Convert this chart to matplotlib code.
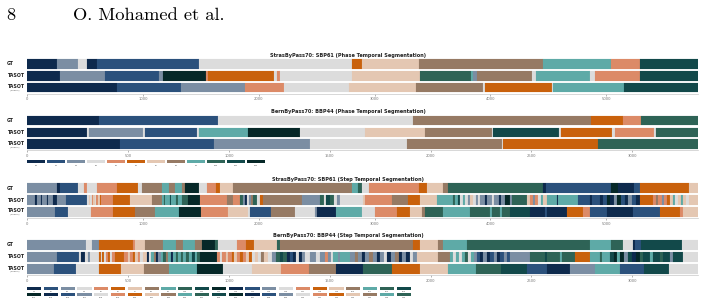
import matplotlib
matplotlib.use("Agg")
import matplotlib.pyplot as plt
from matplotlib.patches import Rectangle

W, H = 705, 306

# 12 phase / step colours (cycle)
palette = ["#0e2a4d", "#2b517c", "#7b8ea3", "#dcdcdc", "#dc8a67", "#c9610c",
           "#e4c7b2", "#967a64", "#5eaaa7", "#2e6356", "#12494a", "#062828"]

row_names = ["GT", "TASOT", "TASOT"]
row3_note = "(b-specific)"

phase_labels = ["P%d" % i for i in range(1, 13)]
step_labels = ["S%d" % i for i in range(1, 47)]

sbp61_len = 5797
bbp44_len = 3328
sbp61_ticks = [0, 1000, 2000, 3000, 4000, 5000]
bbp44_ticks = [0, 500, 1000, 1500, 2000, 2500, 3000]

# segments: (end frame, class index)
sbp61_phase_gt = [(259, 0), (435, 2), (513, 3), (605, 0), (1486, 1), (2808, 3), (2889, 5),
                  (3383, 6), (4453, 7), (5045, 8), (5293, 4), (5797, 10)]
sbp61_phase_tasot = [(282, 0), (671, 2), (1138, 1), (1175, 2), (1544, 11), (1565, 4), (2134, 5),
                     (2157, 3), (2180, 4), (2805, 3), (3393, 6), (3833, 9), (3851, 8), (3885, 2),
                     (4360, 7), (4395, 3), (4861, 8), (4904, 3), (5293, 4), (5797, 10)]
sbp61_phase_tasot_b = [(775, 0), (1330, 1), (1883, 2), (2218, 4), (2779, 3), (3355, 6), (3939, 7),
                       (3951, 3), (4533, 5), (4541, 3), (5155, 8), (5797, 10)]

bbp44_phase_gt = [(356, 0), (944, 1), (1911, 3), (2794, 7), (2954, 5), (3043, 4), (3328, 9)]
bbp44_phase_tasot = [(298, 0), (307, 3), (575, 2), (584, 3), (840, 1), (853, 3), (1096, 8),
                     (1351, 11), (1673, 3), (1971, 6), (2303, 7), (2309, 3), (2638, 10), (2647, 3),
                     (2898, 5), (2914, 3), (3108, 4), (3118, 3), (3328, 9)]
bbp44_phase_tasot_b = [(460, 0), (926, 1), (1402, 2), (1883, 3), (2353, 7), (2359, 3), (2832, 5),
                       (3328, 9)]

sbp61_step_gt = [(259, 2), (283, 0), (435, 1), (492, 3), (513, 4), (600, 3), (772, 4), (959, 5),
                 (988, 3), (1161, 7), (1227, 8), (1276, 7), (1334, 8), (1362, 7), (1486, 11),
                 (1550, 3), (1630, 4), (1665, 5), (1774, 6), (2802, 7), (2860, 8), (2889, 9),
                 (2955, 3), (3384, 4), (3456, 5), (3589, 6), (3632, 7), (4453, 9), (4481, 0),
                 (5043, 1), (5106, 11), (5241, 0), (5293, 1), (5716, 5), (5797, 6)]
sbp61_step_tasot = [(67, 2), (86, 0), (118, 2), (127, 0), (170, 2), (179, 0), (225, 2), (259, 0),
                    (332, 2), (518, 1), (533, 3), (541, 6), (559, 3), (568, 4), (585, 6), (594, 3),
                    (611, 4), (628, 6), (637, 5), (743, 4), (887, 5), (1075, 6), (1161, 7),
                    (1181, 8), (1190, 9), (1233, 8), (1241, 10), (1285, 8), (1302, 9), (1334, 8),
                    (1388, 9), (1492, 11), (1723, 4), (1777, 7), (1837, 4), (1863, 9), (1881, 2),
                    (1898, 0), (1915, 3), (1932, 2), (1949, 7), (1982, 9), (2010, 3), (2034, 5),
                    (2371, 7), (2529, 2), (2563, 9), (2580, 3), (2615, 10), (2649, 9), (2675, 3),
                    (2701, 2), (2903, 3), (2917, 6), (3148, 4), (3291, 7), (3393, 5), (3537, 6),
                    (3677, 8), (3695, 9), (3720, 8), (3737, 10), (3763, 3), (3781, 8), (3807, 3),
                    (3824, 2), (3850, 6), (3876, 3), (3893, 2), (3911, 3), (3954, 2), (3971, 0),
                    (4014, 2), (4031, 3), (4075, 2), (4092, 0), (4127, 2), (4170, 11), (4188, 2),
                    (4314, 9), (4343, 6), (4369, 4), (4386, 2), (4412, 4), (4438, 3), (4455, 8),
                    (4487, 6), (4574, 8), (4587, 0), (4760, 8), (4861, 1), (4878, 0), (4948, 1),
                    (4973, 0), (5005, 1), (5034, 11), (5068, 0), (5094, 2), (5129, 11), (5163, 1),
                    (5189, 0), (5224, 2), (5258, 1), (5293, 0), (5408, 5), (5431, 4), (5448, 7),
                    (5483, 4), (5500, 2), (5526, 4), (5552, 5), (5578, 6), (5595, 8), (5621, 3),
                    (5647, 6), (5664, 8), (5690, 6), (5716, 3), (5797, 6)]
sbp61_step_tasot_b = [(239, 2), (354, 1), (548, 3), (743, 4), (930, 5), (1103, 7), (1311, 8),
                      (1503, 11), (1731, 4), (1909, 6), (1924, 3), (2103, 1), (2313, 7), (2485, 3),
                      (2505, 2), (2667, 0), (2889, 8), (3004, 3), (3191, 4), (3306, 5), (3407, 6),
                      (3436, 7), (3594, 9), (3824, 8), (3997, 9), (4014, 8), (4084, 9), (4101, 8),
                      (4170, 9), (4343, 10), (4472, 0), (4490, 1), (4660, 0), (4803, 5), (4861, 4),
                      (5005, 1), (5235, 0), (5466, 1), (5639, 5), (5665, 4), (5797, 6)]

bbp44_step_gt = [(291, 2), (322, 3), (357, 2), (526, 5), (534, 4), (584, 6), (671, 7), (737, 8),
                 (774, 7), (832, 8), (865, 7), (931, 11), (947, 9), (1041, 3), (1085, 4),
                 (1124, 5), (1240, 6), (1253, 9), (1911, 7), (1947, 5), (2038, 6), (2063, 7),
                 (2179, 8), (2790, 9), (2893, 8), (2956, 9), (3005, 3), (3014, 0), (3042, 1),
                 (3248, 10), (3328, 3)]
bbp44_step_tasot = [(146, 2), (256, 1), (265, 3), (286, 0), (301, 3), (311, 2), (357, 3), (365, 5),
                    (370, 3), (380, 5), (390, 3), (400, 4), (410, 5), (420, 3), (435, 4), (480, 5),
                    (499, 4), (509, 6), (524, 4), (534, 5), (549, 6), (559, 4), (574, 3), (592, 6),
                    (604, 0), (613, 3), (628, 8), (638, 7), (648, 0), (663, 2), (673, 8), (688, 9),
                    (698, 7), (713, 8), (722, 0), (737, 8), (747, 9), (762, 8), (773, 9), (787, 8),
                    (802, 9), (816, 8), (831, 10), (842, 8), (856, 9), (939, 11), (956, 4),
                    (966, 3), (985, 4), (995, 6), (1015, 4), (1025, 5), (1040, 6), (1055, 4),
                    (1070, 5), (1085, 4), (1099, 6), (1114, 5), (1129, 3), (1144, 6), (1159, 3),
                    (1174, 7), (1194, 6), (1213, 3), (1233, 2), (1253, 9), (1268, 10), (1288, 9),
                    (1303, 0), (1318, 1), (1332, 0), (1347, 3), (1362, 0), (1377, 2), (1402, 3),
                    (1432, 2), (1451, 3), (1476, 2), (1491, 4), (1506, 2), (1516, 3), (1541, 8),
                    (1551, 2), (1600, 8), (1625, 2), (1640, 7), (1660, 2), (1674, 0), (1694, 2),
                    (1714, 7), (1733, 2), (1749, 0), (1769, 2), (1784, 3), (1803, 0), (1823, 2),
                    (1843, 7), (1858, 0), (1878, 2), (1898, 0), (1913, 3), (1931, 2), (2038, 6),
                    (2096, 7), (2111, 8), (2126, 3), (2141, 8), (2156, 3), (2170, 8), (2185, 9),
                    (2200, 3), (2215, 8), (2229, 2), (2245, 1), (2260, 0), (2280, 2), (2294, 0),
                    (2314, 1), (2329, 2), (2344, 0), (2364, 1), (2379, 2), (2394, 1), (2493, 2),
                    (2567, 9), (2577, 10), (2641, 9), (2651, 8), (2716, 9), (2790, 5), (2840, 8),
                    (2850, 9), (2890, 8), (2910, 10), (2924, 11), (2939, 8), (2959, 11), (2979, 2),
                    (2999, 10), (3019, 0), (3038, 11), (3055, 9), (3088, 10), (3103, 8),
                    (3138, 10), (3153, 9), (3187, 10), (3202, 2), (3253, 10), (3328, 3)]
bbp44_step_tasot_b = [(132, 2), (242, 1), (356, 3), (465, 5), (580, 6), (704, 7), (840, 8),
                      (972, 11), (1113, 3), (1258, 6), (1397, 4), (1531, 7), (1666, 0), (1807, 9),
                      (1947, 5), (2088, 6), (2225, 8), (2348, 9), (2477, 10), (2579, 1), (2691, 0),
                      (2815, 2), (2939, 8), (3060, 1), (3184, 10), (3328, 3)]

fig = plt.figure(figsize=(W / 100, H / 100), dpi=100)

# overlay in pixel units for page text, row names and legends
ov = fig.add_axes([0, 0, 1, 1])
ov.set_xlim(0, W)
ov.set_ylim(H, 0)
ov.axis("off")

ov.text(6.5, 20, "8", family="cmr10", fontsize=13.3, va="baseline")
ov.text(73.3, 20, "O. Mohamed et al.", family="cmr10", fontsize=13.3, va="baseline")

X0, X1 = 27.3, 698.3


def draw_panel(y0, y1, rows, xmax, ticks, title, title_y):
    ax = fig.add_axes([X0 / W, 1 - y1 / H, (X1 - X0) / W, (y1 - y0) / H])
    for i, segs in enumerate(rows):
        lefts, widths, cols = [], [], []
        start = 0
        for end, lab in segs:
            lefts.append(start)
            widths.append(end - start)
            cols.append(palette[lab])
            start = end
        ax.barh([i] * len(segs), widths, left=lefts, height=0.82, color=cols,
                edgecolor=cols, linewidth=0.1)
    ax.set_xlim(0, xmax)
    ax.set_ylim(2.5, -0.5)
    ax.set_yticks([])
    ax.set_xticks(ticks)
    ax.set_xticklabels([str(t) for t in ticks])
    ax.tick_params(axis="x", length=1.5, width=0.4, labelsize=2.7, colors="#777777", pad=1.2)
    for s in ["top", "left", "right"]:
        ax.spines[s].set_visible(False)
    ax.spines["bottom"].set_color("#c8c8c8")
    ax.spines["bottom"].set_linewidth(0.5)
    ax.patch.set_alpha(0)
    ov.text(348, title_y, title, fontsize=3.6, fontweight="bold", ha="center", va="center",
            color="#222222")
    pitch = (y1 - y0) / 3
    for i, name in enumerate(row_names):
        yc = y0 + (i + 0.5) * pitch
        if i == 2:
            ov.text(7.0, yc - 1.0, name, fontsize=3.4, fontweight="bold", va="center",
                    color="#222222")
            ov.text(15.5, yc + 2.7, row3_note, fontsize=1.4, ha="center", va="center",
                    color="#444444")
        else:
            ov.text(7.0, yc, name, fontsize=3.4, fontweight="bold", va="center", color="#222222")


draw_panel(58.0, 93.5, [sbp61_phase_gt, sbp61_phase_tasot, sbp61_phase_tasot_b], sbp61_len,
           sbp61_ticks, "StrasByPass70: SBP61 (Phase Temporal Segmentation)", 55.3)
draw_panel(114.8, 150.0, [bbp44_phase_gt, bbp44_phase_tasot, bbp44_phase_tasot_b], bbp44_len,
           bbp44_ticks, "BernByPass70: BBP44 (Phase Temporal Segmentation)", 111.7)
draw_panel(182.4, 217.9, [sbp61_step_gt, sbp61_step_tasot, sbp61_step_tasot_b], sbp61_len,
           sbp61_ticks, "StrasByPass70: SBP61 (Step Temporal Segmentation)", 179.7)
draw_panel(239.0, 275.0, [bbp44_step_gt, bbp44_step_tasot, bbp44_step_tasot_b], bbp44_len,
           bbp44_ticks, "BernByPass70: BBP44 (Step Temporal Segmentation)", 235.5)

# phase legend
for k, lab in enumerate(phase_labels):
    x = 27.0 + k * 20.0
    ov.add_patch(Rectangle((x, 160.0), 18.0, 3.3, color=palette[k % 12], lw=0))
    ov.text(x + 9.0, 165.8, lab, fontsize=1.6, ha="center", va="center", color="#555555")

# step legend, two rows of 23
for k, lab in enumerate(step_labels):
    r, c = divmod(k, 23)
    x = 27.0 + c * 16.8
    yb = 286.7 + r * 6.3
    ov.add_patch(Rectangle((x, yb), 14.2, 3.0, color=palette[k % 12], lw=0))
    ov.text(x + 7.1, yb + 4.6, lab, fontsize=1.5, ha="center", va="center", color="#555555")

fig.savefig("out.png", dpi=100)
